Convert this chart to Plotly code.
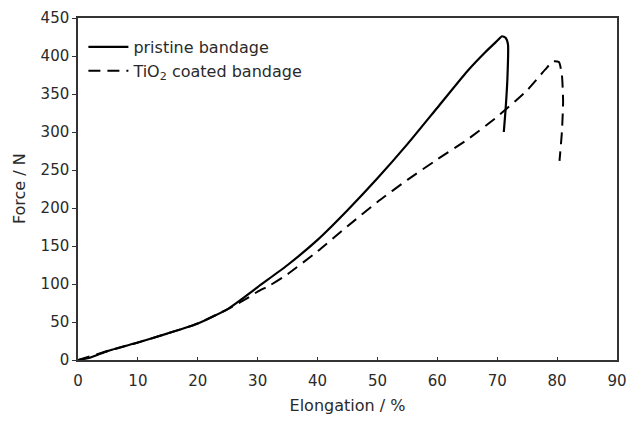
import plotly.graph_objects as go

pristine_x = [0, 2, 5, 10, 15, 20, 25, 28, 30, 35, 40, 45, 50, 55, 60, 65, 68, 70, 70.8, 71.4, 71.8, 71.7, 71.4, 71.1]
pristine_f = [0, 3, 12, 23, 35, 48, 67, 84, 96, 125, 158, 197, 239, 284, 332, 380, 405, 420, 426, 424, 415, 370, 330, 300]

tio2_x = [0, 5, 10, 15, 20, 25, 28, 30, 32, 35, 40, 45, 50, 55, 60, 65, 70, 75, 78, 79.3, 80.3, 80.8, 81, 80.8, 80.4]
tio2_f = [0, 12, 23, 35, 48, 67, 80, 90, 98, 113, 143, 176, 208, 237, 264, 290, 320, 355, 382, 393, 392, 375, 340, 300, 262]

x_ticks = [0, 10, 20, 30, 40, 50, 60, 70, 80, 90]
y_ticks = [0, 50, 100, 150, 200, 250, 300, 350, 400, 450]

FAM = "DejaVu Sans, Arial, sans-serif"
TXT = "#2a2a2a"

fig = go.Figure()
fig.add_trace(go.Scatter(x=pristine_x, y=pristine_f, mode="lines", name="pristine bandage",
                         line=dict(color="black", width=2.2, shape="spline", smoothing=0.5)))
fig.add_trace(go.Scatter(x=tio2_x, y=tio2_f, mode="lines", name="TiO<sub>2</sub> coated bandage",
                         line=dict(color="black", width=2, dash="12px,7px", shape="spline", smoothing=0.5)))

fig.update_layout(
    width=636, height=424,
    margin=dict(l=78, r=9, t=14, b=64),
    paper_bgcolor="white", plot_bgcolor="white",
    font=dict(family=FAM, size=15, color=TXT),
    showlegend=True,
    legend=dict(x=0.01, y=0.965, xanchor="left", yanchor="top", bgcolor="rgba(0,0,0,0)",
                font=dict(family=FAM, size=16, color=TXT), itemwidth=40),
    xaxis=dict(range=[0, 90], tickvals=x_ticks, ticks="inside", ticklen=3, tickcolor="#333",
               tickfont=dict(family=FAM, size=15, color=TXT), ticklabelstandoff=6,
               showline=True, linecolor="#333", linewidth=1.5, mirror=True, showgrid=False,
               zeroline=False, title=dict(text="Elongation / %", standoff=11,
                                          font=dict(family=FAM, size=16, color=TXT))),
    yaxis=dict(range=[0, 450], tickvals=y_ticks, ticks="outside", ticklen=4, tickcolor="#333",
               tickfont=dict(family=FAM, size=15, color=TXT),
               showline=True, linecolor="#333", linewidth=1.5, mirror=True, showgrid=False,
               zeroline=False),
    annotations=[dict(text="Force / N", xref="paper", yref="paper", x=-60 / 549, y=0.5,
                      xanchor="center", yanchor="middle", textangle=-90, showarrow=False,
                      font=dict(family=FAM, size=16, color=TXT))],
)

fig.write_html("out.html")
